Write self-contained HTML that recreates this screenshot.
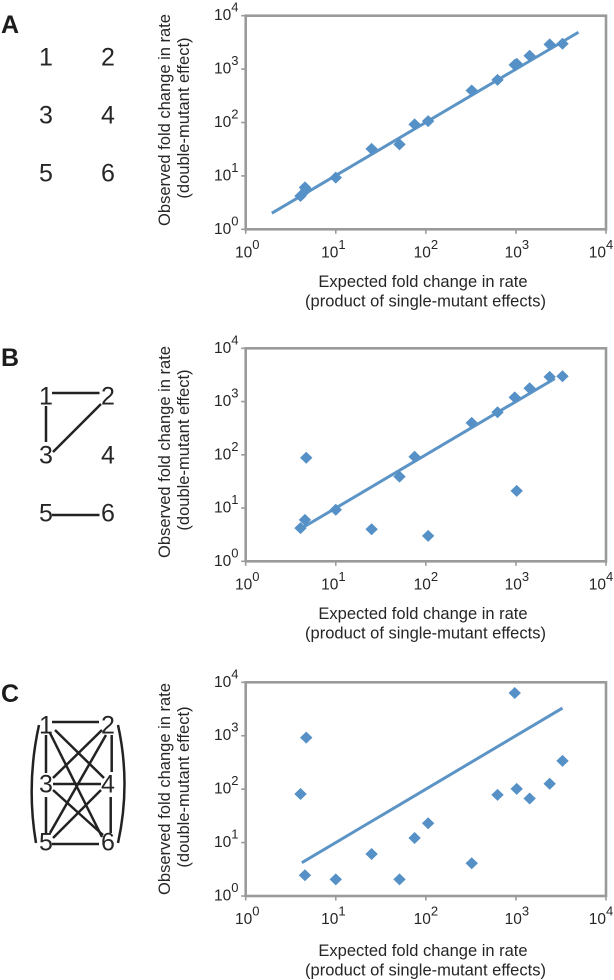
<!DOCTYPE html>
<html>
<head>
<meta charset="utf-8">
<title>Observed versus expected fold change in rate</title>
<style>
html,body{margin:0;padding:0;background:#fff;}
svg{display:block;filter:blur(0.3px);}
text{font-family:"Liberation Sans",sans-serif;fill:#262626;}
.title{font-size:16.5px;text-anchor:middle;}
.tick{font-size:15.5px;}
.num{font-size:25px;text-anchor:middle;}
.letter{font-size:25px;font-weight:bold;fill:#1c1c1c;}
.edge{stroke:#222;stroke-width:2.5;fill:none;}
</style>
</head>
<body>
<svg id="figure" width="614" height="980" viewBox="0 0 614 980" xmlns="http://www.w3.org/2000/svg">

  <g>
    <text class="letter" x="1" y="33">A</text>
    <text class="num" x="46" y="65.5">1</text>
    <text class="num" x="108" y="65.5">2</text>
    <text class="num" x="46" y="123.5">3</text>
    <text class="num" x="108" y="123.5">4</text>
    <text class="num" x="46" y="181.5">5</text>
    <text class="num" x="108" y="181.5">6</text>
  </g>

  <g>
    <text class="letter" x="1" y="366">B</text>
    <text class="num" x="46" y="404.5">1</text>
    <text class="num" x="108" y="404.5">2</text>
    <text class="num" x="46" y="463.5">3</text>
    <text class="num" x="108" y="463.5">4</text>
    <text class="num" x="46" y="521.5">5</text>
    <text class="num" x="108" y="521.5">6</text>
    <line class="edge" x1="52" y1="393" x2="99.5" y2="393"/>
    <line class="edge" x1="46" y1="406" x2="46" y2="442"/>
    <line class="edge" x1="53" y1="452" x2="101" y2="404"/>
    <line class="edge" x1="52" y1="515" x2="99.5" y2="515"/>
  </g>

  <g>
    <text class="letter" x="1" y="702">C</text>
    <text class="num" x="46" y="733.5">1</text>
    <text class="num" x="108" y="733.5">2</text>
    <text class="num" x="46" y="792.5">3</text>
    <text class="num" x="108" y="792.5">4</text>
    <text class="num" x="46" y="850.5">5</text>
    <text class="num" x="108" y="850.5">6</text>
    <line class="edge" x1="52" y1="722" x2="99" y2="722"/>
    <line class="edge" x1="46" y1="735" x2="46" y2="773"/>
    <line class="edge" x1="46" y1="797" x2="46" y2="833"/>
    <line class="edge" x1="111.7" y1="735" x2="111.7" y2="772"/>
    <line class="edge" x1="110.7" y1="797" x2="110.7" y2="833"/>
    <line class="edge" x1="52" y1="844" x2="99" y2="844"/>
    <line class="edge" x1="53" y1="784" x2="101" y2="784"/>
    <line class="edge" x1="55" y1="730" x2="104" y2="778"/>
    <line class="edge" x1="50" y1="733" x2="102" y2="837"/>
    <line class="edge" x1="102" y1="730" x2="53" y2="778"/>
    <line class="edge" x1="106" y1="735" x2="50" y2="833"/>
    <line class="edge" x1="53" y1="790" x2="103" y2="835"/>
    <line class="edge" x1="101" y1="790" x2="53" y2="838"/>
    <path class="edge" d="M39 725 Q26 784 36 843"/>
    <path class="edge" d="M118 725 Q131 784 118 843"/>
  </g>

  <g>
    <text class="title" transform="translate(170,120) rotate(-90)">Observed fold change in rate</text>
    <text class="title" transform="translate(189,118) rotate(-90)">(double-mutant effect)</text>
    <text class="title" x="423" y="287">Expected fold change in rate</text>
    <text class="title" x="425.5" y="306.5">(product of single-mutant effects)</text>
  </g>
  <g>
    <text class="title" transform="translate(170,452) rotate(-90)">Observed fold change in rate</text>
    <text class="title" transform="translate(189,450) rotate(-90)">(double-mutant effect)</text>
    <text class="title" x="423" y="619">Expected fold change in rate</text>
    <text class="title" x="425.5" y="638.5">(product of single-mutant effects)</text>
  </g>
  <g>
    <text class="title" transform="translate(170,789) rotate(-90)">Observed fold change in rate</text>
    <text class="title" transform="translate(189,787) rotate(-90)">(double-mutant effect)</text>
    <text class="title" x="423" y="956">Expected fold change in rate</text>
    <text class="title" x="425.5" y="975.5">(product of single-mutant effects)</text>
  </g>

  <g id="plot-a"></g>
  <g id="plot-b"></g>
  <g id="plot-c"></g>
</svg>

<script>
const tickValues = [1, 10, 100, 1000, 10000];
const tickBase = "10";
const tickExponents = ["0", "1", "2", "3", "4"];

const expected = [4.06, 4.55, 4.7, 10, 25, 51, 75, 106, 323, 625, 970, 1020, 1420, 2370, 3290];
const observedA = [4.2, 6.1, 5.5, 9.3, 32, 39, 92, 106, 398, 630, 1200, 1260, 1780, 2900, 2980];
const observedB = [4.2, 6, 88, 9.3, 4, 39, 92, 3, 398, 630, 1200, 21, 1780, 2900, 2980];
const observedC = [81, 2.45, 920, 2.05, 6.1, 2.05, 12.2, 23, 4.1, 78, 6300, 101, 67, 126, 339];

const fitXA = [1.95, 4950];
const fitYA = [2, 4900];
const fitXB = [4.06, 2700];
const fitYB = [4.06, 2700];
const fitXC = [4.2, 3290];
const fitYC = [4.2, 3290];

const SVG_NS = "http://www.w3.org/2000/svg";
const AXIS_COLOR = "#9a9a9a";
const MARK_COLOR = "#5590c6";
const LINE_COLOR = "#5c94c6";
const xLabelNudge = [1.5, -2.4, 0, 1, -5];

function make(parent, tag, attrs) {
  const el = document.createElementNS(SVG_NS, tag);
  for (const k in attrs) el.setAttribute(k, attrs[k]);
  parent.appendChild(el);
  return el;
}

function tickLabel(parent, x, y, i, anchor) {
  const t = make(parent, "text", { x: x, y: y, "text-anchor": anchor, "class": "tick" });
  
  
  t.appendChild(document.createTextNode(tickBase));
  const s = make(t, "tspan", { dy: -8.5, "font-size": 13 });
  s.textContent = tickExponents[i];
  return t;
}

function drawPlot(id, top, bottom, ys, fitX, fitY) {
  const g = document.getElementById(id);
  const left = 245.7, right = 606;
  const dMin = Math.log10(tickValues[0]);
  const dMax = Math.log10(tickValues[tickValues.length - 1]);
  const xScale = v => left + (Math.log10(v) - dMin) / (dMax - dMin) * (right - left);
  const yScale = v => bottom - (Math.log10(v) - dMin) / (dMax - dMin) * (bottom - top);

  const frame = make(g, "rect", {
    x: left, y: top, width: right - left, height: bottom - top,
    fill: "none", stroke: AXIS_COLOR, "stroke-width": 2.6
  });
  
  

  tickValues.forEach((v, i) => {
    const xt = make(g, "line", {
      x1: xScale(v), x2: xScale(v), y1: bottom, y2: bottom + 4.5,
      stroke: AXIS_COLOR, "stroke-width": 1.6
    });
    
    
    const yt = make(g, "line", {
      x1: left - 4.5, x2: left, y1: yScale(v), y2: yScale(v),
      stroke: AXIS_COLOR, "stroke-width": 1.6
    });
    
    
    tickLabel(g, xScale(v) + xLabelNudge[i], bottom + 28, i, "middle");
    tickLabel(g, 238.5, yScale(v) + 4.5, i, "end");
  });

  const fit = make(g, "line", {
    x1: xScale(fitX[0]), y1: yScale(fitY[0]),
    x2: xScale(fitX[1]), y2: yScale(fitY[1]),
    stroke: LINE_COLOR, "stroke-width": 3
  });
  
  

  expected.forEach((e, i) => {
    const cx = xScale(e), cy = yScale(ys[i]);
    const hw = 6.2, hh = 6;
    const p = make(g, "polygon", {
      points: [cx - hw, cy, cx, cy - hh, cx + hw, cy, cx, cy + hh].join(" "),
      fill: MARK_COLOR
    });
    
    
  });
}

drawPlot("plot-a", 15.7, 229.3, observedA, fitXA, fitYA);
drawPlot("plot-b", 348.3, 561.3, observedB, fitXB, fitYB);
drawPlot("plot-c", 682.3, 896, observedC, fitXC, fitYC);
</script>
</body>
</html>
